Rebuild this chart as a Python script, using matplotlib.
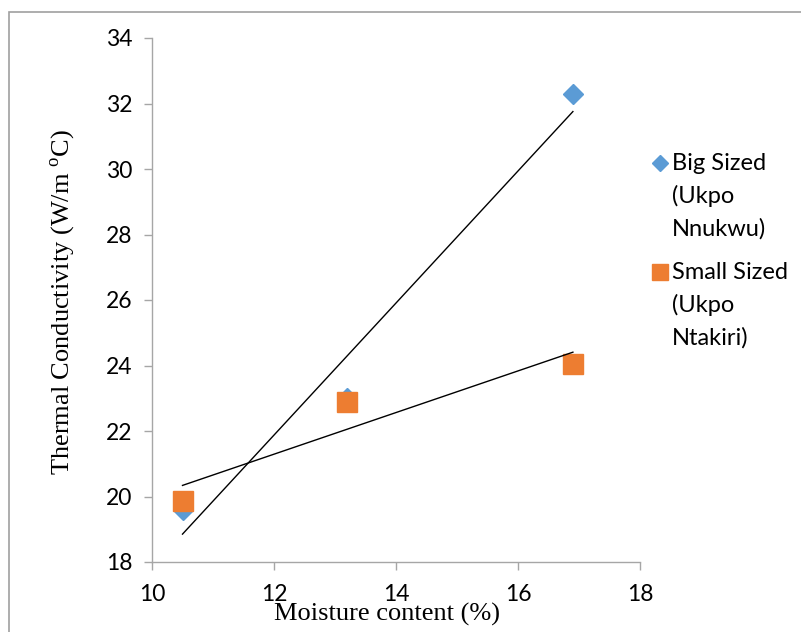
import numpy as np
import matplotlib
matplotlib.use("Agg")
import matplotlib.pyplot as plt
from matplotlib.patches import Rectangle
from matplotlib.lines import Line2D

# ---- data ----
moisture = [10.5, 13.2, 16.9]
big_sized = [19.6, 23.0, 32.3]
small_sized = [19.85, 22.9, 24.05]
series_labels = ["Big Sized\n(Ukpo\nNnukwu)", "Small Sized\n(Ukpo\nNtakiri)"]
x_ticks = [10, 12, 14, 16, 18]
y_ticks = [18, 20, 22, 24, 26, 28, 30, 32, 34]

plt.rcParams['mathtext.fontset'] = 'custom'
plt.rcParams['mathtext.rm'] = 'Liberation Serif'

W, H = 801, 632
fig = plt.figure(figsize=(W / 100, H / 100), dpi=100)
ax = fig.add_axes([152 / W, 1 - 562 / H, (640 - 152) / W, (562 - 38) / H])

blue = "#5B9BD5"
orange = "#ED7D31"
grey = "#A6A6A6"

ax.plot(moisture, big_sized, linestyle='none', marker='D', ms=10.2,
        color=blue, zorder=3)
ax.plot(moisture, small_sized, linestyle='none', marker='s', ms=14.2,
        color=orange, zorder=4)

# linear trendlines
xs = np.array([moisture[0], moisture[-1]])
for ys in (big_sized, small_sized):
    p = np.polyfit(moisture, ys, 1)
    ax.plot(xs, np.polyval(p, xs), color='black', lw=1.0, zorder=5)

ax.set_xlim(10, 18)
ax.set_ylim(18, 34)
ax.set_xticks(x_ticks)
ax.set_yticks(y_ticks)
for s in ('top', 'right'):
    ax.spines[s].set_visible(False)
for s in ('left', 'bottom'):
    ax.spines[s].set_color(grey)
    ax.spines[s].set_linewidth(1.0)
ax.tick_params(axis='both', colors=grey, length=6, width=1.0, labelsize=16.5,
               labelcolor='black', direction='out')
ax.tick_params(axis='x', pad=10)
ax.tick_params(axis='y', pad=8)
for lab in ax.get_xticklabels() + ax.get_yticklabels():
    lab.set_fontfamily('Lato')

fig.text(387 / W, 1 - 614 / H, "Moisture content (%)", ha='center', va='center',
         fontsize=19, family='Liberation Serif')
fig.text(63 / W, 1 - 302 / H, r"Thermal Conductivity (W/m $^{\mathrm{o}}$C)",
         ha='center', va='center', rotation=90, fontsize=19,
         family='Liberation Serif')

# legend (manual, multi-line labels with marker at first line)
leg_markers = [('D', 8.6, blue), ('s', 12.2, orange)]
leg_tops = [163, 272]
pitch = 33
for (mk, ms, col), y0, lab in zip(leg_markers, leg_tops, series_labels):
    fig.add_artist(Line2D([660 / W], [1 - y0 / H], marker=mk, ms=ms, color=col,
                          linestyle='none', transform=fig.transFigure))
    for i, line in enumerate(lab.split('\n')):
        fig.text(672 / W, 1 - (y0 + i * pitch) / H, line, ha='left',
                 va='center', fontsize=17, family='Lato')

# outer chart border
fig.patches.append(Rectangle((9 / W, -0.1), 1.2, 1 - 12 / H + 0.1,
                             transform=fig.transFigure, fill=False,
                             edgecolor='#A0A0A0', lw=1.2))

fig.savefig("out.png", dpi=100)
